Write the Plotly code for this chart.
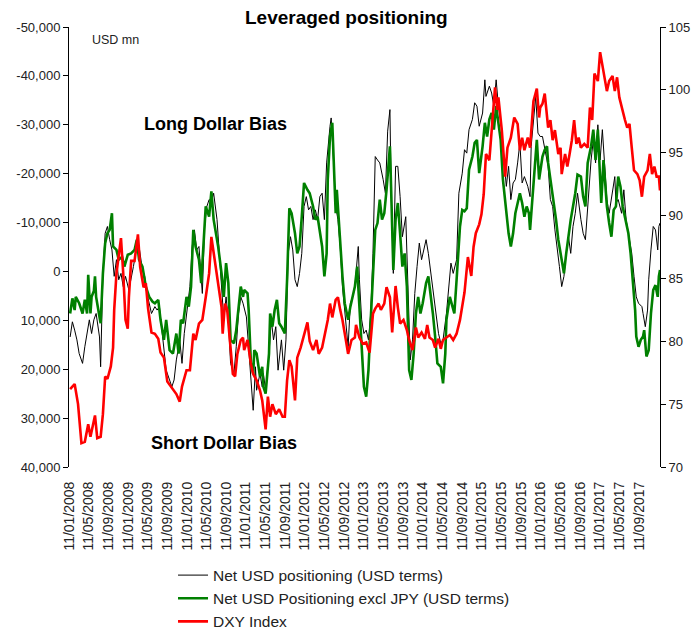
import numpy as np
import pandas as pd
import plotly.graph_objects as go

# weekly data, week index counted from 11/01/2008
start = pd.Timestamp("2008-01-11")
last_week = 523

net_weeks = [1, 3, 5, 7, 9, 12, 14, 16, 18, 20, 22, 24, 27, 28, 30, 32, 34, 36, 38, 40, 42, 44, 46, 48, 50, 53, 55, 57, 59, 62,
             65, 67, 69, 71, 73, 76, 78, 80, 82, 84, 86, 89, 91, 93, 95, 98, 100, 102, 104, 107, 109, 111, 113, 115, 118, 120, 122,
             124, 126, 128, 131, 133, 135, 137, 139, 141, 143, 146, 148, 150, 152, 154, 157, 159, 161, 163, 165, 166, 169, 171,
             172, 174, 177, 179, 181, 183, 185, 188, 190, 192, 194, 196, 198, 200, 202, 204, 206, 208, 210, 212, 214, 216, 218,
             220, 222, 224, 226, 228, 231, 232, 234, 236, 238, 240, 242, 244, 247, 249, 251, 253, 256, 257, 259, 261, 263, 265,
             267, 269, 271, 273, 275, 278, 280, 282, 284, 285, 287, 289, 291, 293, 295, 298, 300, 302, 304, 306, 308, 310, 312,
             314, 316, 318, 321, 323, 325, 327, 329, 331, 334, 336, 338, 340, 343, 345, 348, 350, 352, 354, 357, 359, 361, 363,
             366, 368, 369, 372, 374, 376, 378, 380, 383, 385, 387, 389, 391, 393, 395, 397, 399, 401, 403, 406, 408, 409, 411,
             413, 415, 417, 419, 421, 424, 426, 428, 430, 432, 434, 436, 438, 440, 442, 444, 446, 448, 450, 453, 455, 457, 459,
             462, 464, 466, 468, 470, 472, 474, 476, 478, 481, 483, 484, 486, 489, 491, 493, 495, 498, 500, 502, 504, 507, 508,
             510, 512, 513, 515, 517, 519, 521, 522, 523]
net_usd = [13400, 10300, 12000, 14000, 16800, 18800, 15400, 12700, 9900, 12700, 9900, 8600, 13400, 19500, 400, -7800, -9200,
           -6500, -4400, 1000, -2400, 1700, 400, 3100, 1000, 3800, 1700, -1000, -3700, -5100, -300, 1000, 4500, 6500, 8600,
           7200, 7900, 7200, 12000, 16100, 20200, 22200, 23600, 22200, 18100, 14000, 18800, 12700, 8600, 3100, -5100, -8500,
           -4400, -5100, 4500, -9200, -13300, -14700, -14300, -16000, -10600, -3700, 4500, 9900, 5200, 9900, 18800, 20900,
           15400, 8600, 5200, 6500, 9300, 16100, 22200, 28400, 19500, 24300, 20900, 23600, 20900, 24300, 16800, 9900, 14000,
           11300, 20200, 14000, 20200, 14000, -3700, -7100, -4400, 1700, 3100, 400, -3700, -13300, -15300, -12600, -13300,
           -10600, -12600, -10600, -15300, -16000, -10600, -22200, -29700, -31400, -23000, -13300, -10600, -5100, 3100, 8600,
           15400, 6500, 5200, 3100, -5100, 1700, 9900, 12700, 12000, 14000, 8600, -3700, -23500, -22800, -22200, -18800,
           -16000, -28700, -33100, -17400, 400, -21500, -21500, -15300, -7100, -11200, 5200, 18100, 14000, 4500, -1000, -5800,
           -2400, -4400, -6500, -3700, 1700, 5200, 9900, 12700, 14700, 14000, 8600, 3100, -1700, 400, -2400, -16000, -20100,
           -24900, -24200, -29000, -31100, -34500, -33800, -29700, -32400, -39200, -35800, -37900, -36500, -33800, -39200,
           -33800, -29000, -22800, -17400, -21500, -14700, -18100, -18800, -22200, -26300, -18100, -19400, -17400, -15300,
           -25600, -31700, -35800, -28300, -27600, -27600, -24900, -21500, -14700, -13300, -8500, -5100, -1000, 3100, 1000,
           -3700, -7100, -3700, -9200, -11900, -16000, -10600, -7800, -6500, -13300, -22800, -26900, -22200, -30000, -22800,
           -29000, -20800, -14700, -11900, -16000, -19400, -14000, -14700, -11900, -16700, -10600, -7800, -3700, 1000, 5200,
           6500, 7200, 8600, 11300, 7900, 1700, -4400, -9200, -8500, -4400, -9200, -9900]

exjpy_weeks = [1, 3, 5, 6, 9, 12, 14, 16, 17, 19, 20, 22, 23, 24, 27, 28, 30, 32, 34, 36, 38, 39, 42, 44, 47, 49, 52, 55, 58,
               60, 62, 65, 68, 71, 74, 76, 79, 81, 84, 86, 89, 92, 95, 97, 99, 101, 104, 106, 108, 110, 112, 115, 117, 119,
               121, 124, 126, 128, 130, 132, 135, 137, 139, 141, 143, 146, 148, 150, 152, 154, 155, 158, 159, 161, 163, 164,
               166, 169, 171, 172, 174, 177, 178, 180, 182, 184, 186, 188, 191, 193, 195, 197, 200, 202, 204, 206, 208, 211,
               213, 216, 218, 220, 222, 224, 226, 228, 229, 231, 233, 234, 236, 237, 239, 242, 244, 247, 249, 251, 253, 255,
               257, 259, 261, 263, 265, 267, 269, 271, 273, 275, 277, 279, 281, 284, 285, 287, 289, 291, 293, 295, 297, 299,
               301, 303, 305, 307, 309, 311, 313, 316, 318, 320, 322, 324, 326, 329, 331, 333, 334, 337, 339, 341, 343, 346,
               348, 350, 352, 354, 357, 359, 361, 363, 366, 368, 370, 372, 374, 376, 378, 380, 382, 384, 387, 389, 391, 393,
               395, 397, 399, 401, 403, 405, 407, 408, 411, 412, 414, 416, 419, 421, 423, 424, 427, 429, 431, 433, 436, 438,
               440, 442, 444, 446, 448, 450, 453, 455, 457, 459, 462, 464, 466, 468, 470, 471, 473, 476, 478, 480, 482, 484,
               486, 488, 490, 492, 495, 497, 499, 501, 502, 504, 506, 508, 509, 511, 513, 515, 517, 519, 521, 522, 523]
net_usd_ex_jpy = [8600, 5500, 7900, 5200, 6500, 8600, 5800, 8600, 700, 8600, 5200, 4000, 1000, 5200, 9300, 10600, 400, -5800,
                  -7800, -8500, -11900, -5100, -4400, -2400, -3000, -1000, -3400, -3700, -4400, -6500, -2400, -1000, 3100,
                  5200, 6200, 6500, 5800, 9900, 14000, 9900, 16100, 16800, 12700, 16800, 9900, 10600, 5200, 7200, 3100,
                  -8500, -5100, -2400, 2400, -5100, -13300, -11200, -16400, -10600, -7800, -5100, 400, 5200, -1700, 2400,
                  14000, 14700, 12000, 7900, 3100, 5200, 3800, 4500, 7900, 18800, 20900, 16100, 16800, 21500, 19500, 23600,
                  25000, 16800, 8600, 11300, 7900, 5800, 10600, 11300, 12700, 1700, -12900, -11900, -7800, -3700, -5100,
                  -11200, -18100, -16700, -16000, -13300, -10600, -11200, -7800, -5100, 1000, -3700, -18800, -27600, -30400,
                  -24200, -11900, -16700, -9200, 1000, 6500, 9900, 7200, 5200, 3100, -1000, 7200, 15400, 23600, 25600,
                  20200, 9900, -1000, -8500, -9900, -14700, -10600, -11900, -16700, -25600, -17400, -300, -10600, -14000,
                  -7800, -1000, -3700, 3100, 20200, 22200, 16800, 8600, 5200, 8600, 6500, 2400, 1000, 4500, 8600, 13300,
                  18800, 19500, 22900, 16800, 9900, 5200, 7200, 8600, 1700, -9200, -12600, -12300, -12900, -20800, -23500,
                  -26300, -26900, -20100, -25600, -30400, -27600, -31100, -32400, -29000, -33800, -29700, -26900, -18800,
                  -11900, -7800, -5100, -7800, -11900, -14000, -16000, -14000, -11200, -13300, -11900, -8500, -17400,
                  -22200, -26900, -18800, -23500, -24900, -25600, -22200, -17400, -14700, -10600, -6500, -2400, 400, -3700,
                  -7800, -10600, -13300, -16000, -19800, -19400, -15300, -13300, -22200, -25600, -29000, -22800, -29000,
                  -20800, -14000, -22800, -13300, -9900, -7100, -12600, -13300, -19400, -17400, -13300, -11200, -7800,
                  -3700, 1700, 7900, 13300, 15400, 14000, 13300, 12000, 17400, 16100, 8600, 3800, 2800, 5200, 1000, -300]

dxy_weeks = [1, 5, 8, 11, 14, 17, 19, 23, 25, 28, 30, 32, 34, 37, 39, 40, 42, 44, 46, 48, 50, 52, 53, 55, 58, 61, 63, 66, 68,
             70, 73, 76, 79, 81, 84, 87, 90, 95, 98, 100, 104, 107, 110, 112, 115, 118, 121, 124, 126, 129, 132, 135, 136,
             138, 140, 142, 145, 147, 149, 152, 154, 155, 158, 161, 163, 166, 169, 171, 174, 176, 178, 180, 183, 186, 189,
             191, 193, 195, 197, 200, 202, 205, 207, 211, 213, 216, 219, 221, 224, 226, 229, 231, 233, 236, 238, 240, 242,
             245, 247, 250, 253, 254, 257, 260, 263, 266, 269, 271, 274, 276, 279, 281, 284, 286, 289, 291, 293, 296, 299,
             301, 304, 307, 309, 312, 315, 317, 319, 322, 324, 327, 329, 331, 334, 337, 340, 343, 346, 348, 350, 353, 356,
             358, 360, 363, 365, 367, 369, 372, 375, 377, 379, 380, 383, 385, 386, 388, 391, 394, 397, 399, 401, 403, 406,
             408, 410, 411, 414, 416, 417, 419, 421, 424, 426, 428, 430, 433, 435, 436, 439, 441, 443, 445, 447, 449, 451,
             453, 456, 459, 461, 463, 465, 468, 470, 472, 474, 476, 478, 481, 483, 485, 487, 489, 492, 494, 496, 498, 500,
             503, 505, 507, 509, 512, 514, 516, 518, 520, 522, 523]
dxy = [76.2, 76.6, 75.0, 71.9, 72.0, 73.4, 72.4, 74.1, 72.3, 72.4, 74.2, 77.2, 77.0, 78.0, 79.5, 82.5, 85.4, 87.0, 88.2, 85.4,
       81.7, 81.0, 83.5, 86.4, 86.4, 88.5, 85.9, 84.3, 84.6, 82.6, 80.7, 80.6, 80.2, 79.1, 78.7, 76.8, 76.4, 75.8, 75.2, 76.4,
       77.7, 77.7, 80.6, 80.1, 81.4, 81.7, 83.5, 85.4, 88.3, 86.4, 84.6, 82.7, 80.6, 83.0, 82.5, 80.3, 77.4, 77.2, 79.0, 80.1,
       80.3, 79.3, 80.1, 78.2, 77.4, 76.9, 76.1, 75.3, 73.0, 75.6, 74.0, 75.0, 74.2, 74.6, 74.0, 74.0, 76.9, 78.5, 78.0, 75.3,
       78.7, 79.5, 80.1, 81.5, 80.0, 79.3, 80.1, 79.0, 79.5, 80.3, 81.7, 83.0, 81.9, 83.3, 83.5, 82.5, 81.7, 80.1, 79.0, 80.1,
       80.3, 81.3, 80.3, 79.8, 79.9, 79.1, 82.2, 82.6, 83.0, 82.5, 83.0, 84.3, 83.5, 80.7, 84.4, 82.7, 81.4, 81.7, 80.9, 80.1,
       79.3, 81.1, 80.3, 80.7, 80.2, 81.3, 80.3, 80.1, 79.5, 80.2, 79.4, 80.1, 80.3, 80.5, 80.1, 80.6, 81.7, 82.7, 83.9, 86.7,
       85.2, 87.5, 88.6, 89.3, 90.1, 91.7, 94.9, 94.4, 97.6, 100.2, 98.4, 99.4, 96.8, 94.1, 93.1, 95.4, 96.2, 97.8, 97.3, 95.2,
       96.2, 95.2, 96.2, 95.4, 97.8, 99.1, 100.1, 97.8, 98.6, 98.9, 99.7, 97.0, 97.6, 96.0, 96.8, 94.9, 95.4, 93.3, 94.9, 93.9,
       94.9, 96.0, 97.6, 95.7, 96.2, 95.4, 95.7, 95.4, 98.6, 97.6, 101.3, 100.7, 103.0, 102.0, 101.0, 99.9, 100.7, 101.1,
       99.9, 101.0, 99.4, 98.6, 97.6, 97.0, 97.3, 95.4, 93.6, 93.3, 92.8, 91.5, 93.1, 93.6, 94.9, 93.3, 93.9, 93.1, 93.1, 92.0]

left_ticks = list(range(-50000, 40001, 10000))
left_tick_text = ["-50,000", "-40,000", "-30,000", "-20,000", "-10,000", "0", "10,000", "20,000", "30,000", "40,000"]
# date ticks every 4 months, 11/01/2008 .. 11/09/2017
date_ticks = [start + pd.DateOffset(months=4 * i) for i in range(30)]


def week_dates(weeks):
    return start + pd.to_timedelta(np.array(weeks) * 7, unit="D")


font = "Arial, Liberation Sans, sans-serif"
end = start + pd.Timedelta(days=7 * last_week)

fig = go.Figure()
fig.add_trace(go.Scatter(x=week_dates(net_weeks), y=net_usd, mode="lines",
                         name="Net USD positioning (USD terms)", line=dict(color="black", width=1)))
fig.add_trace(go.Scatter(x=week_dates(exjpy_weeks), y=net_usd_ex_jpy, mode="lines",
                         name="Net USD Positioning excl JPY (USD terms)", line=dict(color="#008000", width=2.6)))
fig.add_trace(go.Scatter(x=week_dates(dxy_weeks), y=dxy, mode="lines", yaxis="y2",
                         name="DXY Index", line=dict(color="#ff0000", width=2.6)))

zero_pos = 40000 / 90000

fig.update_layout(
    width=694, height=632,
    margin=dict(l=69, r=34, t=27, b=165, autoexpand=False),
    plot_bgcolor="white", paper_bgcolor="white",
    font=dict(family=font, size=13, color="#222"),
    showlegend=True,
    legend=dict(x=0.176, y=-0.208, xanchor="left", yanchor="top",
                font=dict(size=15.5, color="#222"), bgcolor="rgba(0,0,0,0)"),
    xaxis=dict(type="date", range=[start, end], tickvals=date_ticks, tickformat="%d/%m/%Y",
               tickangle=-90, showline=False, ticks="outside", ticklen=8, tickcolor="rgba(0,0,0,0)",
               showgrid=False, zeroline=False, tickfont=dict(size=14)),
    xaxis2=dict(type="date", overlaying="x", anchor="free", position=zero_pos, range=[start, end],
                tickvals=date_ticks, ticks="inside", ticklen=5, tickcolor="black",
                showticklabels=False, showline=True, linecolor="black", linewidth=1, showgrid=False),
    yaxis=dict(range=[40000, -50000], tickvals=left_ticks, ticktext=left_tick_text, ticks="outside",
               ticklen=5, tickcolor="black", showline=True, linecolor="black", linewidth=1,
               showgrid=False, zeroline=False),
    yaxis2=dict(overlaying="y", side="right", range=[70, 105], dtick=5, ticks="outside", ticklen=5,
                tickcolor="black", showline=True, linecolor="black", linewidth=1, showgrid=False,
                zeroline=False),
)

fig.add_annotation(text="<b>Leveraged positioning</b>", xref="paper", yref="paper", x=0.47, y=1.0205,
                   xanchor="center", yanchor="middle", showarrow=False, font=dict(size=19, color="black"))
fig.add_annotation(text="USD mn", xref="paper", yref="paper", x=0.0355, y=0.97, xanchor="left",
                   yanchor="middle", showarrow=False, font=dict(size=12.5, color="#222"))
fig.add_annotation(text="<b>Long Dollar Bias</b>", xref="paper", yref="paper", x=0.2487, y=0.7795,
                   xanchor="center", yanchor="middle", showarrow=False, font=dict(size=18, color="black"))
fig.add_annotation(text="<b>Short Dollar Bias</b>", xref="paper", yref="paper", x=0.2623, y=0.0545,
                   xanchor="center", yanchor="middle", showarrow=False, font=dict(size=18, color="black"))

# page body has a default 8px margin; remove it so the figure sits at the window origin
fig.write_html("out.html", config={"displayModeBar": False},
               post_script="document.body.style.margin = '0';")
